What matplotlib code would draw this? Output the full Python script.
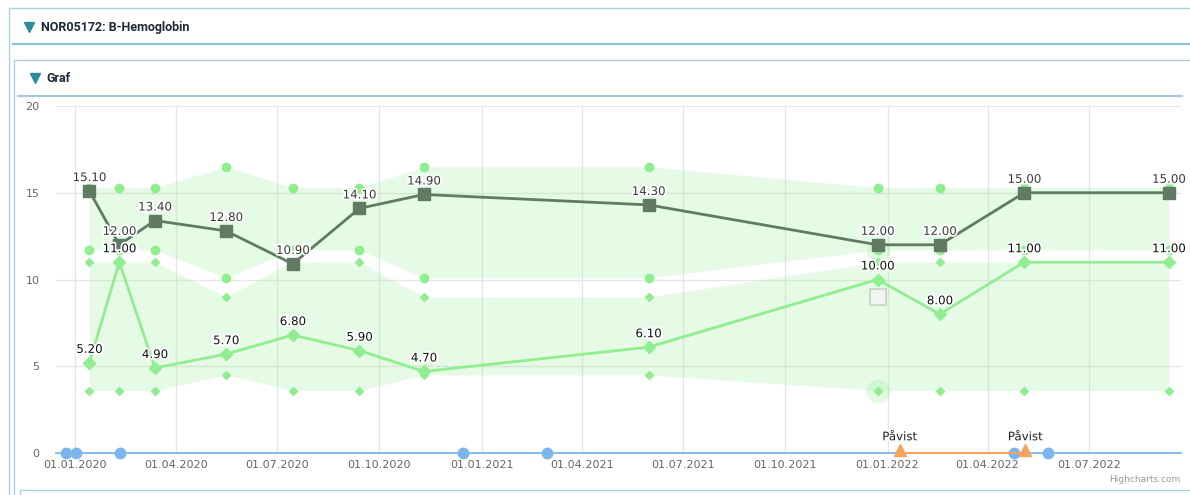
import numpy as np
import pandas as pd
import matplotlib
matplotlib.use("Agg")
import matplotlib.pyplot as plt
import matplotlib.dates as mdates
import matplotlib.patheffects as pe
from matplotlib.lines import Line2D

# Data
datoer = pd.to_datetime(['2020-01-14', '2020-02-10', '2020-03-13', '2020-05-16', '2020-07-15',
                         '2020-09-13', '2020-11-10', '2021-05-31', '2021-12-23', '2022-02-17',
                         '2022-05-04', '2022-09-11'])
hb_verdi = [15.10, 12.00, 13.40, 12.80, 10.90, 14.10, 14.90, 14.30, 12.00, 12.00, 15.00, 15.00]
hb_ref_hoy = [15.3, 15.3, 15.3, 16.5, 15.3, 15.3, 16.5, 16.5, 15.3, 15.3, 15.3, 15.3]
hb_ref_lav = [11.7, 11.7, 11.7, 10.1, 11.7, 11.7, 10.1, 10.1, 11.7, 11.7, 11.7, 11.7]

lys_verdi = [5.20, 11.00, 4.90, 5.70, 6.80, 5.90, 4.70, 6.10, 10.00, 8.00, 11.00, 11.00]
lys_ref_hoy = [11.0, 11.0, 11.0, 9.0, 11.0, 11.0, 9.0, 9.0, 11.0, 11.0, 11.0, 11.0]
lys_ref_lav = [3.6, 3.6, 3.6, 4.5, 3.6, 3.6, 4.5, 4.5, 3.6, 3.6, 3.6, 3.6]

hendelser = pd.to_datetime(['2019-12-24', '2020-01-02', '2020-02-11', '2020-12-15',
                            '2021-03-01', '2022-04-25', '2022-05-25'])
pavist_datoer = pd.to_datetime(['2022-01-12', '2022-05-05'])
pavist_tekst = ['Påvist', 'Påvist']

tick_datoer = pd.date_range('2020-01-01', '2022-07-01', freq='QS')

W, H = 1190, 495
fig = plt.figure(figsize=(W / 100, H / 100), dpi=100)
fig.patch.set_facecolor('white')


def fx(px):
    return px / W


def fy(py):
    return 1 - py / H


# Panel frames
ramme = '#a9d4dc'
def linje(x0, y0, x1, y1, farge=ramme, lw=1.0):
    fig.add_artist(Line2D([fx(x0), fx(x1)], [fy(y0), fy(y1)], color=farge, lw=lw))

linje(9, 8, W, 8)
linje(9, 8, 9, H)
linje(13, 43.5, W, 43.5, '#8cc5cf', 1.6)
linje(14, 60, W, 60)
linje(14, 60, 14, H)
linje(18, 96, 1182, 96, '#8cc5cf', 1.2)
linje(20, 490, W, 490)
linje(20, 490, 20, H)

hodefont = ['Roboto', 'DejaVu Sans']
fig.add_artist(Line2D([fx(29)], [fy(27)], marker='v', ms=7, color='#2b8c9c', lw=0))
fig.text(fx(41), fy(28), 'NOR05172: B-Hemoglobin', fontsize=9, fontweight='bold',
         color='#1d2b3a', va='center', family=hodefont)
fig.add_artist(Line2D([fx(35)], [fy(78)], marker='v', ms=7, color='#2b8c9c', lw=0))
fig.text(fx(46), fy(79), 'Graf', fontsize=9, fontweight='bold',
         color='#1d2b3a', va='center', family=hodefont)

ax = fig.add_axes([fx(56), fy(453), fx(1181) - fx(56), fy(106) - fy(453)])
ax.set_facecolor('none')

gronn = '#90ee90'
mork = '#5f7b62'

# Reference bands
ax.fill_between(datoer, hb_ref_lav, hb_ref_hoy, color=gronn, alpha=0.22, lw=0, zorder=1)
ax.fill_between(datoer, lys_ref_lav, lys_ref_hoy, color=gronn, alpha=0.22, lw=0, zorder=1)
ax.plot(datoer, hb_ref_hoy, 'o', color=gronn, ms=6, zorder=3)
ax.plot(datoer, hb_ref_lav, 'o', color=gronn, ms=6, zorder=3)
ax.plot(datoer, lys_ref_hoy, 'D', color=gronn, ms=4, zorder=3)
ax.plot(datoer, lys_ref_lav, 'D', color=gronn, ms=4, zorder=3)

# hover halos
ax.plot(datoer[8], lys_ref_lav[8], 'o', color=gronn, ms=17, alpha=0.25, mec='none', zorder=2)
ax.plot(datoer[8], hb_ref_lav[8], 'o', color=gronn, ms=17, alpha=0.25, mec='none', zorder=2)

# Series
ax.plot(datoer, lys_verdi, '-D', color=gronn, lw=2, ms=6, zorder=4)
ax.plot(datoer, hb_verdi, '-s', color=mork, lw=2, ms=8, zorder=5)

omriss = [pe.withStroke(linewidth=2.5, foreground='white')]
for d, v in zip(datoer, hb_verdi):
    ax.annotate(f'{v:.2f}', (d, v), xytext=(0, 5), textcoords='offset points', ha='center',
                va='bottom', fontsize=8.5, color='#3a3a3a', path_effects=omriss, zorder=7)
for d, v in zip(datoer, lys_verdi):
    ax.annotate(f'{v:.2f}', (d, v), xytext=(0, 5), textcoords='offset points', ha='center',
                va='bottom', fontsize=8.5, color='#111111', path_effects=omriss, zorder=7)

# small button square
ax.plot(datoer[8], 9.0, 's', ms=11, mfc='#f3f5f3', mec='#c9dcc9', mew=1.5, zorder=6)

# Event line at zero
ax.plot([pd.Timestamp('2019-12-15'), pd.Timestamp('2022-09-22')], [0, 0], color='#7cb5ec',
        lw=1.3, zorder=4, clip_on=False)
ax.plot(hendelser, np.zeros(len(hendelser)), 'o', color='#7cb5ec', ms=7.5, zorder=5, clip_on=False)
ax.plot(pavist_datoer, np.zeros(len(pavist_datoer)), '-', color='#f7a35c', lw=1.5, zorder=6, clip_on=False)
ax.plot(pavist_datoer, np.full(len(pavist_datoer), 0.15), '^', color='#f7a35c', ms=8, lw=0,
        zorder=7, clip_on=False)
for d, t in zip(pavist_datoer, pavist_tekst):
    ax.annotate(t, (d, 0), xytext=(0, 7), textcoords='offset points', ha='center', va='bottom',
                fontsize=8.5, color='#222222', path_effects=omriss, zorder=8)

ax.set_xlim(pd.Timestamp('2019-12-15'), pd.Timestamp('2022-09-22'))
ax.set_ylim(0, 20)
ax.set_yticks([0, 5, 10, 15, 20])
ax.set_xticks(tick_datoer)
ax.xaxis.set_major_formatter(mdates.DateFormatter('%d.%m.%Y'))
ax.tick_params(axis='both', length=0, labelsize=8, labelcolor='#666666')
ax.tick_params(axis='y', pad=12)
ax.tick_params(axis='x', pad=5)
ax.grid(True, color='#e6e6e6', lw=1)
ax.set_axisbelow(True)
for s in ax.spines.values():
    s.set_visible(False)

fig.text(fx(1180), fy(480), 'Highcharts.com', fontsize=6.5, color='#999999', ha='right', va='center')

fig.savefig('out.png', dpi=100)
